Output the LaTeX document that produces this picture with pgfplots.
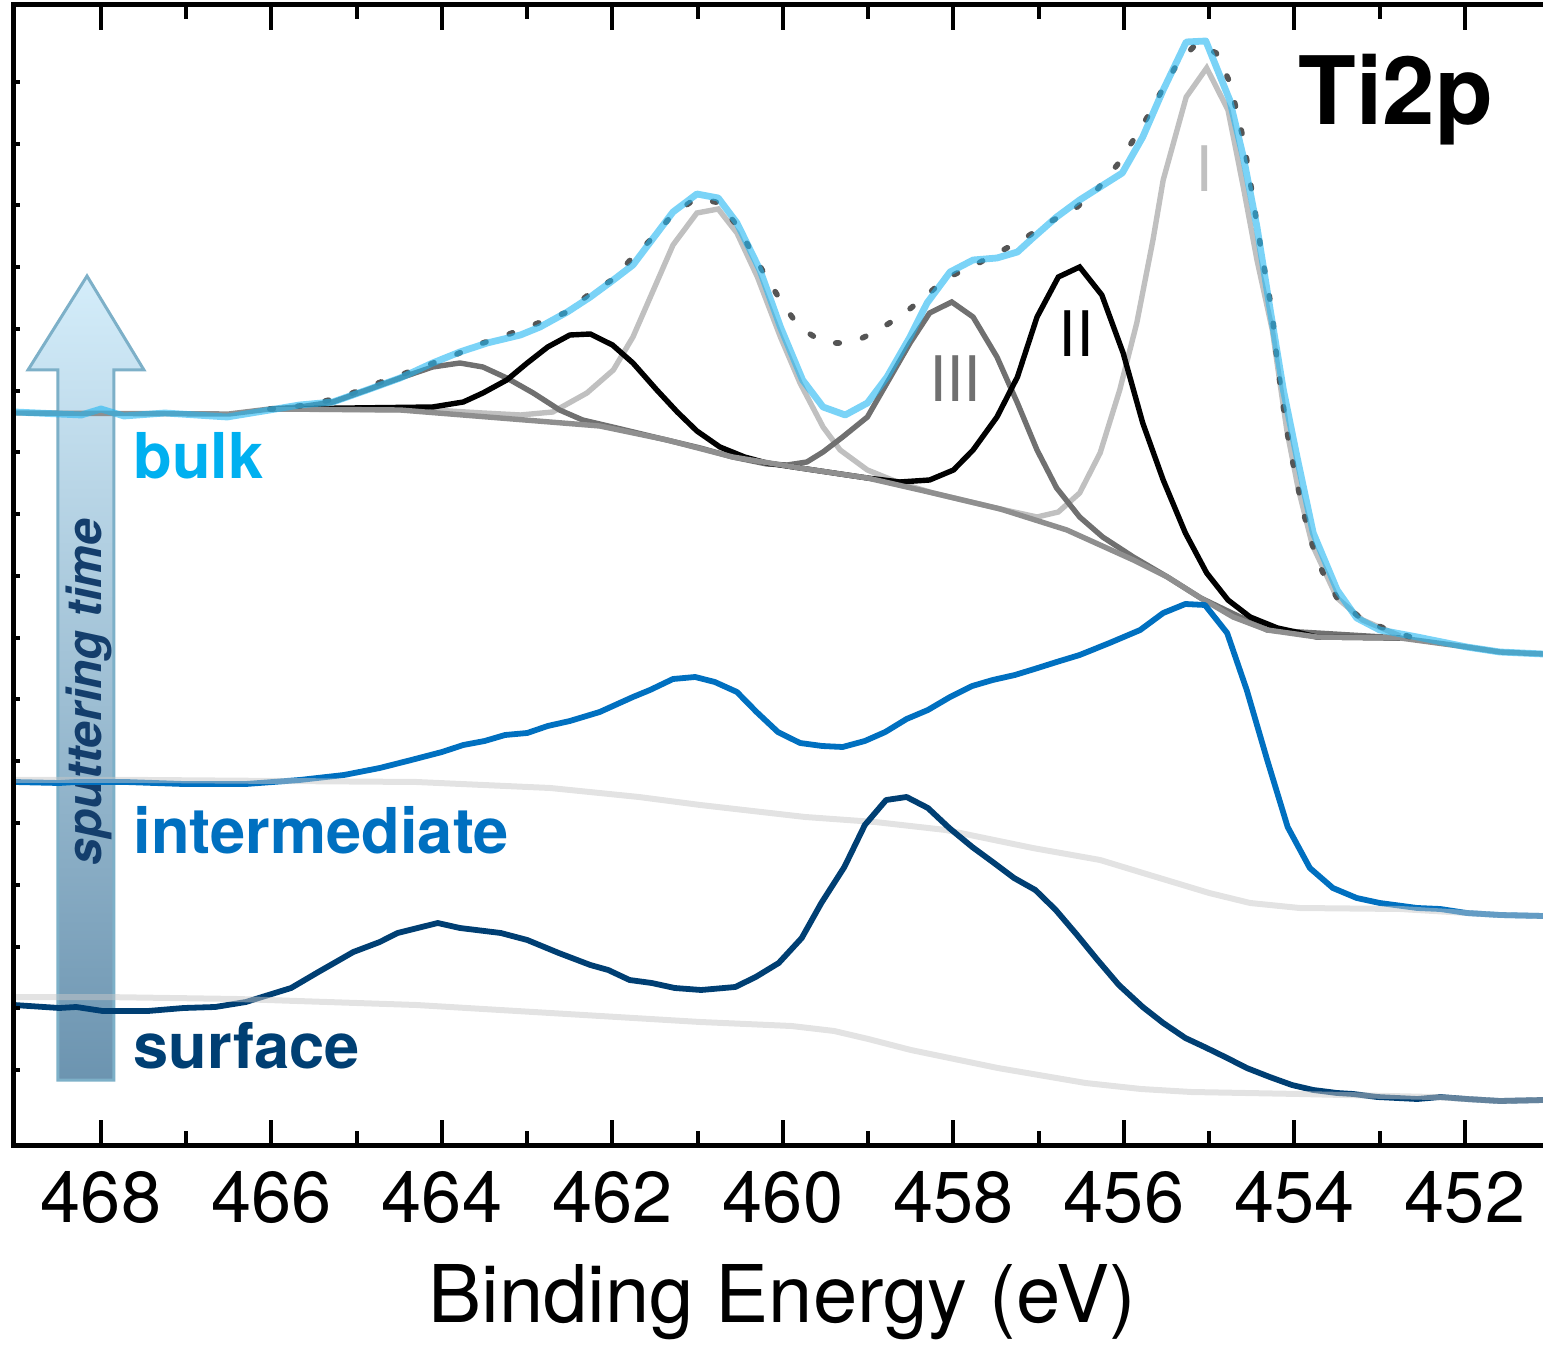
\documentclass[border=0pt]{standalone}
\usepackage{fontspec}
\setmainfont{TeX Gyre Heros}
\usepackage{pgfplots}
\pgfplotsset{compat=1.18}
\usetikzlibrary{calc}
\definecolor{bulkline}{RGB}{33,182,242}
\definecolor{bulktxt}{RGB}{0,176,240}
\definecolor{intc}{RGB}{0,112,192}
\definecolor{surfc}{RGB}{0,63,115}
\definecolor{bgdark}{RGB}{143,143,143}
\definecolor{pk1}{RGB}{192,192,192}
\definecolor{pk3}{RGB}{112,112,112}
\definecolor{envc}{RGB}{85,85,85}
\definecolor{lbg}{RGB}{200,200,200}
\definecolor{arrtop}{RGB}{212,237,250}
\definecolor{arrbot}{RGB}{108,148,176}
\definecolor{arredge}{RGB}{125,176,200}
\definecolor{sputc}{RGB}{20,62,108}
\begin{document}
\begin{tikzpicture}
\begin{axis}[
  scale only axis, width=382.25pt, height=285pt,
  x dir=reverse, xmin=451.085, xmax=469.0206, ymin=0, ymax=1140,
  clip=false, no markers,
  axis line style={draw=none},
  xtick={452,454,...,468}, minor xtick={453,455,...,467},
  xtick pos=both, tick align=inside,
  major tick length=6.25pt, minor tick length=3.6pt,
  tick style={black, line width=1pt},
  ytick=\empty,
  /pgf/number format/assume math mode=true,
  xticklabel style={font=\fontsize{18}{18}\selectfont, anchor=base, yshift=-19.25pt},
  xlabel={Binding Energy (eV)},
  xlabel style={font=\fontsize{19.9}{19.9}\selectfont, at={(axis description cs:0.5,0)}, anchor=base, yshift=-44.25pt, xshift=0.9pt},
]
\coordinate (BL) at (axis cs:469.0206,0);
\coordinate (TR) at (axis cs:451.085,1140);

% arrow
\draw[draw=arredge, line width=0.75pt, top color=arrtop, bottom color=arrbot]
  (axis cs:468.505,65) -- (axis cs:468.505,775) -- (axis cs:468.856,775) -- (axis cs:468.164,869)
  -- (axis cs:467.496,775) -- (axis cs:467.848,775) -- (axis cs:467.848,65) -- cycle;
\node[rotate=90, text=sputc, font=\bfseries\itshape\fontsize{12}{12}\selectfont, inner sep=0] at (axis cs:468.14,453) {sputtering time};

% ---- bulk fit components
% peak I
\addplot[pk1, line width=1.35pt] coordinates {(466.02,736)(464.11,735)(463.52,732)(463.08,730)(462.70,733)(462.30,752)(461.99,775)(461.76,808)(461.29,900)(461.01,932)(460.76,936)(460.54,912)(460.30,868)(460.03,808)(459.80,762)(459.53,718)(459.33,695)(459.01,675)(458.63,662)(458.24,652)(457.45,636)(457.02,628)(456.77,633)(456.52,652)(456.28,692)(456.05,755)(455.85,822)(455.66,905)(455.54,965)(455.27,1048)(455.03,1077)(454.78,1035)(454.60,958)(454.44,885)(454.26,815)(454.09,715)(453.96,658)(453.79,600)(453.50,547)(453.20,525)(452.76,509)};
% peak III
\addplot[pk3, line width=1.35pt] coordinates {(466.02,736)(465.67,738)(465.28,743)(464.88,755)(464.49,767)(464.11,778)(463.79,782)(463.52,778)(463.24,767)(462.93,752)(462.62,735)(462.35,725)(461.95,717)(461.56,709)(460.97,697)(460.59,688)(460.19,681)(459.95,680)(459.72,683)(459.53,693)(459.30,708)(459.01,728)(458.78,762)(458.51,802)(458.28,832)(458.02,843)(457.77,828)(457.49,788)(457.25,742)(457.02,695)(456.79,657)(456.52,628)(456.25,608)(455.89,588)(455.49,568)(455.10,547)(454.32,515)(452.76,507)};
% peak II
\addplot[black, line width=1.35pt] coordinates {(466.02,736)(464.11,738)(463.75,743)(463.52,752)(463.24,765)(463.00,782)(462.76,798)(462.50,810)(462.26,811)(462.00,800)(461.76,782)(461.48,755)(461.24,733)(461.01,714)(460.74,698)(460.45,688)(460.19,682)(459.80,677)(459.01,667)(458.63,663)(458.28,665)(458.00,675)(457.77,695)(457.49,728)(457.25,768)(457.02,828)(456.77,868)(456.52,878)(456.26,850)(456.01,792)(455.78,722)(455.54,665)(455.28,612)(455.03,572)(454.78,545)(454.52,528)(454.20,517)(453.93,512)(453.74,508)(452.76,507)};
% background
\addplot[bgdark, line width=1.35pt] coordinates {(469.02,732)(466.5,731)(466.02,736)(464.49,735)(463.32,727)(462.15,719)(461.36,705)(460.59,688)(459.80,677)(459.01,667)(458.24,652)(457.45,636)(456.67,615)(455.89,585)(455.49,568)(455.10,547)(454.72,528)(454.32,515)(453.74,508)(452.76,507)(451.98,498)(451.59,493)(451.08,491)};
% envelope
\addplot[envc, line width=1.4pt, line cap=round, dash pattern=on 0.9pt off 6.1pt] coordinates {(466.02,736)(465.67,739)(465.46,742)(465.14,749)(464.81,760)(464.49,770)(464.16,780)(463.85,790)(463.52,802)(463.21,811)(462.87,822)(462.56,832)(462.30,849)(461.99,866)(461.76,888)(461.52,908)(461.29,931)(461.01,947)(460.74,942)(460.53,918)(460.36,892)(460.19,867)(460.01,842)(459.81,818)(459.52,802)(459.19,802)(458.90,814)(458.60,830)(458.34,848)(458.08,867)(457.75,880)(457.48,892)(457.14,908)(456.87,923)(456.55,938)(456.32,955)(456.08,980)(455.89,1005)(455.71,1030)(455.54,1057)(455.37,1082)(455.14,1102)(454.92,1092)(454.76,1063)(454.60,1006)(454.49,948)(454.38,889)(454.26,832)(454.23,803)(454.16,755)(454.09,715)(454.03,687)(453.96,658)(453.88,628)(453.79,600)(453.67,573)(453.50,547)(453.20,525)(452.86,514)(452.53,505)};
% bulk data
\addplot[bulkline, opacity=0.6, line width=1.7pt, line join=round] coordinates {(469.01,733)(468.23,730)(468.00,736)(467.73,729)(467.25,732)(466.52,728)(466.02,735)(465.67,740)(465.28,743)(464.88,755)(464.49,767)(464.11,782)(463.79,793)(463.47,802)(463.08,810)(462.85,818)(462.53,833)(462.26,848)(461.99,865)(461.76,880)(461.29,933)(461.01,951)(460.76,947)(460.54,922)(460.27,875)(460.03,818)(459.77,765)(459.53,738)(459.27,730)(459.01,742)(458.78,768)(458.51,808)(458.31,842)(458.04,873)(457.77,885)(457.49,887)(457.25,893)(457.07,907)(456.79,928)(456.52,945)(456.28,958)(456.02,972)(455.78,1008)(455.54,1055)(455.27,1103)(455.04,1104)(454.76,1045)(454.60,988)(454.44,918)(454.29,838)(454.13,755)(453.97,688)(453.78,612)(453.50,555)(453.27,527)(453.00,515)(452.56,508)(451.98,498)(451.59,493)(451.08,491)};

% ---- intermediate
\addplot[intc, line width=1.45pt, line join=round] coordinates {(469.02,363)(468.49,362)(468.29,363)(467.71,363)(467.03,361)(466.30,361)(465.67,365)(465.15,370)(464.73,377)(464.36,385)(464.00,393)(463.75,400)(463.50,404)(463.26,410)(463.00,412)(462.76,419)(462.50,424)(462.15,433)(461.76,448)(461.56,455)(461.29,466)(461.03,468)(460.80,463)(460.54,453)(460.31,433)(460.06,413)(459.80,402)(459.54,399)(459.30,398)(459.04,404)(458.80,413)(458.55,426)(458.30,435)(458.04,448)(457.78,459)(457.54,465)(457.28,470)(457.05,476)(456.79,483)(456.52,490)(456.17,502)(455.81,515)(455.54,532)(455.28,541)(455.05,540)(454.79,512)(454.56,455)(454.32,385)(454.08,318)(453.82,277)(453.55,257)(453.27,247)(453.00,242)(452.56,237)(452.29,236)(451.98,232)(451.59,230)(451.08,229)};
\addplot[lbg, opacity=0.5, line width=1.5pt] coordinates {(469.02,365)(467.45,365)(465.88,364)(464.30,363)(462.73,357)(461.69,348)(460.97,340)(459.74,328)(458.92,323)(458.09,315)(457.07,297)(456.28,285)(455.70,270)(455.00,252)(454.52,242)(453.94,237)(452.76,236)(451.98,232)(451.59,230)(451.08,229)};

% ---- surface
\addplot[surfc, line width=1.45pt, line join=round] coordinates {(469.02,140)(468.49,137)(468.29,138)(467.98,134)(467.45,134)(467.03,137)(466.66,138)(466.30,143)(465.77,157)(465.45,173)(465.04,193)(464.73,203)(464.52,212)(464.05,222)(463.79,217)(463.31,212)(463.00,205)(462.63,192)(462.26,180)(462.05,175)(461.80,165)(461.54,162)(461.27,157)(460.96,155)(460.56,158)(460.32,168)(460.05,182)(459.78,207)(459.55,242)(459.28,278)(459.04,320)(458.79,345)(458.55,348)(458.30,337)(458.05,317)(457.78,298)(457.54,283)(457.29,267)(457.04,255)(456.80,235)(456.55,210)(456.31,185)(456.06,160)(455.78,138)(455.54,122)(455.28,107)(455.03,97)(454.79,87)(454.56,77)(454.29,68)(454.03,60)(453.78,55)(453.50,52)(453.31,51)(453.03,48)(452.56,46)(452.29,48)(451.98,46)(451.59,44)(451.08,45)};
\addplot[lbg, opacity=0.5, line width=1.5pt] coordinates {(469.02,148)(467.98,148)(466.40,146)(464.30,140)(462.73,132)(460.97,123)(459.90,119)(459.40,114)(459.00,106)(458.50,95)(457.48,77)(456.45,62)(455.80,56)(455.21,53)(453.94,51)(452.37,48)(451.98,46)(451.59,44)(451.08,45)};

% labels
\node[anchor=base west, text=bulktxt, font=\bfseries\fontsize{15.8}{15.8}\selectfont, inner sep=0] at (axis cs:467.625,666) {bulk};
\node[anchor=base west, text=intc, font=\bfseries\fontsize{15.8}{15.8}\selectfont, inner sep=0] at (axis cs:467.625,292) {intermediate};
\node[anchor=base west, text=surfc, font=\bfseries\fontsize{15.8}{15.8}\selectfont, inner sep=0] at (axis cs:467.625,77) {surface};
\node[anchor=base west, font=\bfseries\fontsize{23.6}{23.6}\selectfont, inner sep=0] at (axis cs:453.959,1020) {Ti2p};
\node[anchor=base, text=pk1, font=\fontsize{15.7}{15.7}\selectfont, inner sep=0] at (axis cs:455.06,953) {I};
\node[anchor=base, text=black, font=\fontsize{15.7}{15.7}\selectfont, inner sep=0] at (axis cs:456.56,788) {II};
\node[anchor=base, text=pk3, font=\fontsize{15.7}{15.7}\selectfont, inner sep=0] at (axis cs:457.98,743) {III};

% y ticks (short, inward)
\pgfplotsinvokeforeach{75,136.75,198.5,260.25,322,383.75,445.5,507.25,569,630.75,692.5,754.25,816,877.75,939.5,1001.25,1063}{
  \draw[black, line width=1pt] (axis cs:469.0206,#1) -- (axis cs:468.95,#1);
}
% frame (left, top, bottom)
\draw[black, line width=1.25pt] (axis cs:451.085,1140) -- (axis cs:469.0206,1140) -- (axis cs:469.0206,0) -- (axis cs:451.085,0);
\end{axis}
\pgfresetboundingbox
\path[use as bounding box] ($(BL)+(-3.5pt,-51.25pt)$) rectangle ($(TR)+(0pt,1.25pt)$);
\end{tikzpicture}
\end{document}
